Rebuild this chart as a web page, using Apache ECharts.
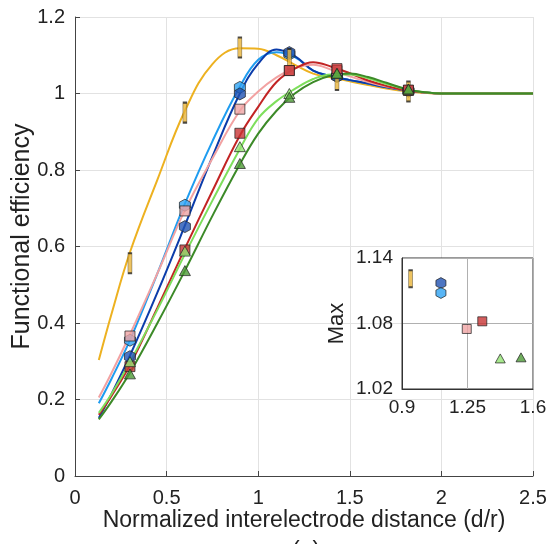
<!DOCTYPE html>
<html><head><meta charset="utf-8">
<script src="https://cdn.jsdelivr.net/npm/echarts@6/dist/echarts.min.js"></script>
<style>html,body{margin:0;padding:0;background:#fff}#c{width:552px;height:544px}</style>
</head><body><div id="c"></div>
<script>
// ---- data ----
const xTicks = [0, 0.5, 1, 1.5, 2, 2.5];
const yTicks = [0, 0.2, 0.4, 0.6, 0.8, 1, 1.2];
const insetXTicks = [0.9, 1.25, 1.6];
const insetYTicks = [1.02, 1.08, 1.14];

const curveX = [0.13, 0.2, 0.3, 0.45, 0.6, 0.75, 0.9, 1.0, 1.1, 1.2, 1.3, 1.4, 1.5, 1.6, 1.7, 1.82, 1.9, 2.0, 2.5];
const yellowCurve     = [0.303, 0.425, 0.585, 0.775, 0.955, 1.077, 1.118, 1.117, 1.100, 1.075, 1.052, 1.042, 1.032, 1.022, 1.013, 1.005, 1.002, 1.0, 1.0];
const lightBlueCurve  = [0.190, 0.255, 0.355, 0.530, 0.712, 0.875, 1.018, 1.088, 1.108, 1.095, 1.060, 1.045, 1.035, 1.026, 1.016, 1.007, 1.003, 1.0, 1.0];
const darkBlueCurve   = [0.152, 0.215, 0.315, 0.480, 0.655, 0.835, 1.000, 1.078, 1.115, 1.098, 1.060, 1.045, 1.035, 1.026, 1.016, 1.007, 1.003, 1.0, 1.0];
const pinkCurve       = [0.205, 0.270, 0.370, 0.530, 0.695, 0.830, 0.955, 1.005, 1.042, 1.066, 1.075, 1.062, 1.045, 1.030, 1.018, 1.008, 1.003, 1.0, 1.0];
const redCurve        = [0.160, 0.210, 0.290, 0.440, 0.595, 0.745, 0.890, 0.965, 1.030, 1.065, 1.082, 1.070, 1.053, 1.034, 1.020, 1.007, 1.003, 1.0, 1.0];
const lightGreenCurve = [0.165, 0.215, 0.298, 0.435, 0.580, 0.720, 0.855, 0.935, 0.980, 1.012, 1.038, 1.050, 1.050, 1.040, 1.025, 1.010, 1.004, 1.0, 1.0];
const darkGreenCurve  = [0.148, 0.195, 0.270, 0.400, 0.537, 0.680, 0.815, 0.895, 0.955, 1.000, 1.030, 1.047, 1.052, 1.043, 1.028, 1.010, 1.004, 1.0, 1.0];

const markerX = [0.3, 0.6, 0.9, 1.17, 1.43, 1.82];
const yellowPts     = [0.556, 0.950, 1.120, 1.090, 1.035, 1.005];
const lightBluePts  = [0.355, 0.708, 1.016, 1.103, 1.045, 1.007];
const darkBluePts   = [0.312, 0.652, 0.999, 1.107, 1.045, 1.007];
const pinkPts       = [0.366, 0.693, 0.959, 1.060, 1.060, 1.008];
const redPts        = [0.286, 0.591, 0.896, 1.060, 1.065, 1.009];
const lightGreenPts = [0.299, 0.588, 0.861, 1.000, 1.052, 1.010];
const darkGreenPts  = [0.267, 0.537, 0.817, 0.990, 1.053, 1.012];

// inset: position of maximum and maximum value
const peakX = [0.946, 1.108, 1.108, 1.246, 1.329, 1.425, 1.536];
const peakY = [1.121, 1.117, 1.108, 1.075, 1.082, 1.048, 1.049];

// ---- build ----
const HEX = 'path://M0,-1 L0.866,-0.5 L0.866,0.5 L0,1 L-0.866,0.5 L-0.866,-0.5 Z';
const zip = (xs, ys) => xs.map((x, i) => [x, ys[i]]);
const defs = [
  {key:'yellow',     line:'#EDB120', fill:'#E9B43A', sym:'rect',     size:[4,20], insetSize:[4,17], curve:yellowCurve,     pts:yellowPts,     peak:0},
  {key:'lightBlue',  line:'#1E9CF0', fill:'#2EA3F2', sym:HEX,        size:[11,12], insetSize:[10,11], curve:lightBlueCurve,  pts:lightBluePts,  peak:2},
  {key:'darkBlue',   line:'#0B3CAA', fill:'#2053B3', sym:HEX,        size:[11,12], insetSize:[10,11], curve:darkBlueCurve,   pts:darkBluePts,   peak:1},
  {key:'pink',       line:'#F2A2A2', fill:'#EFA4A4', sym:'rect',     size:[10,10], insetSize:[9,9],  curve:pinkCurve,       pts:pinkPts,       peak:3},
  {key:'red',        line:'#C22424', fill:'#C83434', sym:'rect',     size:[10,10], insetSize:[9,9],  curve:redCurve,        pts:redPts,        peak:4},
  {key:'lightGreen', line:'#7EDF5C', fill:'#92E472', sym:'triangle', size:[11,10], insetSize:[10,9], curve:lightGreenCurve, pts:lightGreenPts, peak:5},
  {key:'darkGreen',  line:'#3C8A28', fill:'#4C9A36', sym:'triangle', size:[11,10], insetSize:[10,9], curve:darkGreenCurve,  pts:darkGreenPts,  peak:6}
];
const lineOrder = ['yellow','lightBlue','darkBlue','pink','red','lightGreen','darkGreen'];
const markOrder = ['lightBlue','darkBlue','yellow','pink','red','lightGreen','darkGreen'];
const byKey = {}; defs.forEach(d => byKey[d.key] = d);

const series = [];
lineOrder.forEach((k, i) => {
  const d = byKey[k];
  series.push({type:'line', xAxisIndex:0, yAxisIndex:0, data: zip(curveX, d.curve), showSymbol:false,
    smooth:0.4, lineStyle:{color:d.line, width:2}, z:2+i*0.01, silent:true});
});
markOrder.forEach((k, i) => {
  const d = byKey[k];
  series.push({type:'scatter', xAxisIndex:0, yAxisIndex:0, data: zip(markerX, d.pts), symbol:d.sym, symbolSize:d.size,
    itemStyle:{color:d.fill, borderColor:'#222', borderWidth:0.9}, z:3});
});
['yellow','darkBlue','lightBlue','pink','red','lightGreen','darkGreen'].forEach(k => {
  const d = byKey[k];
  series.push({type:'scatter', xAxisIndex:1, yAxisIndex:1, data: [[peakX[d.peak], peakY[d.peak]]], symbol:d.sym, symbolSize:d.insetSize,
    itemStyle:{color:d.fill, borderColor:'#222', borderWidth:0.9}, z:12});
});

const FONT = 'Liberation Sans';
const txt = '#222';
const option = {
  animation:false,
  backgroundColor:'#fff',
  textStyle:{fontFamily:FONT},
  grid:[
    {left:75, top:17, width:458, height:459, outerBoundsMode:'none', containLabel:false},
    {left:402, top:258, width:131, height:131, show:true, backgroundColor:'#fff', borderColor:'#333', borderWidth:1, z:8, outerBoundsMode:'none', containLabel:false}
  ],
  xAxis:[
    {type:'value', gridIndex:0, min:xTicks[0], max:xTicks[xTicks.length-1], interval:0.5,
     name:'Normalized interelectrode distance (d/r)', nameLocation:'middle', nameGap:33, nameMoveOverlap:false,
     nameTextStyle:{fontSize:23, color:txt, fontFamily:FONT},
     axisLine:{show:true, lineStyle:{color:'#444', width:1}},
     axisTick:{show:true, inside:true, length:5, lineStyle:{color:'#444'}},
     axisLabel:{fontSize:20, color:txt, margin:12, fontFamily:FONT},
     splitLine:{show:true, lineStyle:{color:'#e2e2e2', width:1}}},
    {type:'value', gridIndex:1, min:insetXTicks[0], max:insetXTicks[2], z:9,
     axisLine:{show:true, lineStyle:{color:'#333', width:1}},
     axisTick:{show:false, customValues:insetXTicks},
     axisLabel:{fontSize:19, color:txt, margin:9, fontFamily:FONT, customValues:insetXTicks},
     splitLine:{show:true, lineStyle:{color:'#b0b0b0', width:1}}}
  ],
  yAxis:[
    {type:'value', gridIndex:0, min:yTicks[0], max:yTicks[yTicks.length-1], interval:0.2,
     name:'Functional efficiency', nameLocation:'middle', nameGap:40, nameMoveOverlap:false,
     nameTextStyle:{fontSize:25, color:txt, fontFamily:FONT, padding:[0,0,0,20]},
     axisLine:{show:true, lineStyle:{color:'#444', width:1}},
     axisTick:{show:true, inside:true, length:5, lineStyle:{color:'#444'}},
     axisLabel:{fontSize:20, color:txt, margin:10, fontFamily:FONT},
     splitLine:{show:true, lineStyle:{color:'#e2e2e2', width:1}}},
    {type:'value', gridIndex:1, min:insetYTicks[0], max:insetYTicks[2], interval:0.06, z:9,
     name:'Max', nameLocation:'middle', nameGap:54, nameMoveOverlap:false,
     nameTextStyle:{fontSize:22, color:txt, fontFamily:FONT},
     axisLine:{show:true, lineStyle:{color:'#333', width:1}},
     axisTick:{show:false},
     axisLabel:{fontSize:19, color:txt, margin:9, fontFamily:FONT, formatter:v => v.toFixed(2)},
     splitLine:{show:true, lineStyle:{color:'#b0b0b0', width:1}}}
  ],
  graphic:[{type:'text', left:292, top:540, style:{text:'(a)', fontSize:23, fill:txt, fontFamily:FONT}}],
  series
};
const chart = echarts.init(document.getElementById('c'), null, {renderer:'canvas'});
chart.setOption(option);
</script>
</body></html>
